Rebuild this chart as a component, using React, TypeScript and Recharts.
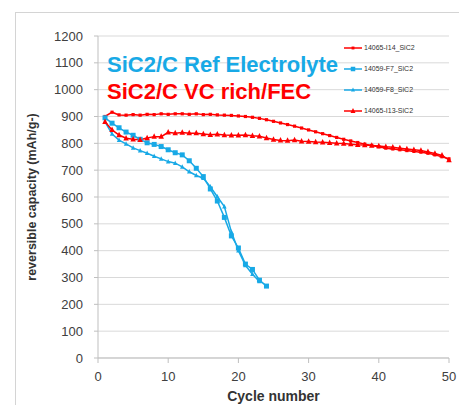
import { LineChart, Line, XAxis, YAxis, CartesianGrid } from 'recharts';

const RED = '#ff0000';
const BLUE = '#18a9e6';

const cycles = Array.from({ length: 50 }, (_, i) => i + 1);

// 14065-I14_SiC2, red small squares
const i14 = [900, 916, 906, 905, 907, 905, 908, 907, 910, 908, 910, 910, 908, 910, 907, 908, 906, 905, 904, 902, 900, 897, 893, 888, 882, 876, 870, 864, 857, 850, 843, 836, 829, 822, 815, 809, 803, 797, 792, 787, 782, 779, 776, 773, 770, 767, 763, 757, 750, 742];
// 14059-F7_SiC2, blue squares
const f7 = [895, 875, 858, 842, 830, 815, 802, 796, 788, 776, 765, 757, 735, 707, 676, 630, 585, 524, 455, 410, 350, 330, 290, 268];
// 14059-F8_SiC2, blue triangles
const f8 = [880, 835, 812, 798, 783, 773, 763, 752, 742, 732, 726, 712, 694, 680, 670, 638, 601, 564, 470, 400, 345, 312, 285];
// 14065-I13-SiC2, red triangles
const i13 = [880, 850, 831, 819, 815, 813, 820, 825, 825, 841, 838, 840, 838, 838, 835, 832, 834, 831, 830, 830, 831, 828, 826, 820, 814, 811, 810, 812, 808, 807, 805, 804, 802, 800, 799, 797, 795, 794, 792, 790, 787, 785, 782, 779, 776, 773, 768, 762, 755, 738];

const xTicks = [0, 10, 20, 30, 40, 50];
const yTicks = [0, 100, 200, 300, 400, 500, 600, 700, 800, 900, 1000, 1100, 1200];

const data = cycles.map((c, i) => ({
  cycle: c,
  i14: i14[i],
  f7: f7[i],
  f8: f8[i],
  i13: i13[i],
}));

const seriesList = [
  { key: 'i14', name: '14065-I14_SiC2', color: RED, shape: 'square', size: 3.2 },
  { key: 'f7', name: '14059-F7_SiC2', color: BLUE, shape: 'square', size: 5 },
  { key: 'f8', name: '14059-F8_SiC2', color: BLUE, shape: 'triangle', size: 4.5 },
  { key: 'i13', name: '14065-I13-SiC2', color: RED, shape: 'triangle', size: 5.5 },
];

function marker(shape: string, color: string, size: number, cx: number, cy: number, key?: any) {
  if (shape === 'square') {
    return <rect key={key} x={cx - size / 2} y={cy - size / 2} width={size} height={size} fill={color} />;
  }
  const h = size;
  return (
    <polygon
      key={key}
      points={`${cx},${cy - h * 0.6} ${cx - h / 2},${cy + h * 0.4} ${cx + h / 2},${cy + h * 0.4}`}
      fill={color}
    />
  );
}

const makeDot = (shape: string, color: string, size: number) => (props: any) => {
  const { cx, cy, index } = props;
  if (cx == null || cy == null || props.value == null) return <g key={index} />;
  return marker(shape, color, size, cx, cy, index);
};

function LegendBox() {
  return (
    <div
      style={{
        position: 'absolute',
        left: 344,
        top: 37,
        fontFamily: 'Liberation Sans, Arial, sans-serif',
        fontSize: 7,
        color: '#333',
      }}
    >
      {seriesList.map((s) => (
        <div key={s.key} style={{ display: 'flex', alignItems: 'center', height: 21 }}>
          <svg width={18} height={8}>
            <line x1={0} y1={4} x2={18} y2={4} stroke={s.color} strokeWidth={1.5} />
            {marker(s.shape, s.color, s.size * 0.9, 9, 4)}
          </svg>
          <span style={{ marginLeft: 2 }}>{s.name}</span>
        </div>
      ))}
    </div>
  );
}

export default function App() {
  return (
    <div style={{ position: 'absolute', left: 0, top: 0, width: 459, height: 405, overflow: 'hidden', background: '#fff' }}>
      <div
        style={{
          position: 'absolute',
          left: 15,
          top: 12,
          width: 460,
          height: 400,
          borderLeft: '1px solid #d4d4d4',
          borderTop: '1px solid #d4d4d4',
        }}
      />
      <LineChart
        width={459}
        height={405}
        data={data}
        margin={{ top: 36, right: 10, bottom: 0, left: 26 }}
        style={{ position: 'absolute', left: 0, top: 0, fontFamily: 'Liberation Sans, Arial, sans-serif' }}
      >
        <CartesianGrid vertical={false} stroke="#d9d9d9" />
        <XAxis
          dataKey="cycle"
          type="number"
          domain={[0, 50]}
          ticks={xTicks}
          height={47}
          stroke="#bfbfbf"
          tickSize={5}
          tickMargin={9}
          tick={{ fill: '#404040', fontSize: 13 }}
          label={{
            value: 'Cycle number',
            position: 'insideBottom',
            offset: 4,
            style: { fill: '#333', fontSize: 14, fontWeight: 'bold' },
          }}
        />
        <YAxis
          type="number"
          domain={[0, 1200]}
          ticks={yTicks}
          width={72}
          stroke="#bfbfbf"
          tickSize={4}
          tickMargin={11}
          tick={{ fill: '#404040', fontSize: 13 }}
          label={{
            value: 'reversible capacity (mAh/g-)',
            angle: -90,
            position: 'insideLeft',
            offset: 6,
            style: { textAnchor: 'middle', fill: '#333', fontSize: 12.5, fontWeight: 'bold' },
          }}
        />
        {seriesList.map((s) => (
          <Line
            key={s.key}
            dataKey={s.key}
            name={s.name}
            stroke={s.color}
            strokeWidth={1.5}
            dot={makeDot(s.shape, s.color, s.size)}
            activeDot={false}
            isAnimationActive={false}
            connectNulls={false}
          />
        ))}
      </LineChart>
      <LegendBox />
      <div
        style={{
          position: 'absolute',
          left: 107,
          top: 51,
          fontFamily: 'Liberation Sans, Arial, sans-serif',
          fontSize: 22,
          fontWeight: 'bold',
          lineHeight: '27px',
          whiteSpace: 'nowrap',
        }}
      >
        <div style={{ color: BLUE }}>SiC2/C Ref Electrolyte</div>
        <div style={{ color: RED }}>SiC2/C VC rich/FEC</div>
      </div>
    </div>
  );
}
